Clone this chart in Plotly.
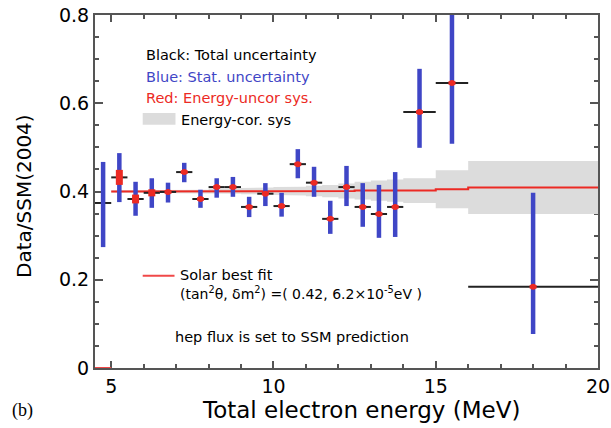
import plotly.graph_objects as go

# ---------------- data ----------------
energy = [4.75, 5.25, 5.75, 6.25, 6.75, 7.25, 7.75, 8.25, 8.75, 9.25, 9.75,
          10.25, 10.75, 11.25, 11.75, 12.25, 12.75, 13.25, 13.75, 14.5, 15.5, 18.0]
bin_half = [0.25] * 19 + [0.5, 0.5, 2.0]
ratio = [0.374, 0.432, 0.383, 0.397, 0.399, 0.444, 0.383, 0.410, 0.410, 0.365, 0.395,
         0.367, 0.462, 0.420, 0.338, 0.410, 0.365, 0.349, 0.365, 0.580, 0.646, 0.184]
stat_up = [0.093, 0.055, 0.039, 0.033, 0.021, 0.021, 0.021, 0.020, 0.023, 0.023, 0.024,
           0.030, 0.034, 0.036, 0.041, 0.048, 0.054, 0.066, 0.079, 0.098, 0.170, 0.213]
stat_dn = [0.100, 0.056, 0.038, 0.034, 0.024, 0.023, 0.020, 0.024, 0.022, 0.023, 0.028,
           0.024, 0.032, 0.032, 0.034, 0.043, 0.045, 0.054, 0.068, 0.081, 0.138, 0.107]
uncor_sys = [0.0, 0.017, 0.010, 0.008, 0.004, 0.004, 0.004, 0.004, 0.004, 0.004, 0.004,
             0.004, 0.004, 0.004, 0.004, 0.004, 0.004, 0.004, 0.004, 0.004, 0.004, 0.004]

fit_edges = [5.0, 5.5, 6.0, 6.5, 7.0, 7.5, 8.0, 8.5, 9.0, 9.5, 10.0, 10.5, 11.0,
             11.5, 12.0, 12.5, 13.0, 13.5, 14.0, 15.0, 16.0, 20.0]
fit_value = [0.400, 0.400, 0.400, 0.400, 0.400, 0.400, 0.401, 0.401, 0.401, 0.401, 0.401,
             0.401, 0.401, 0.401, 0.401, 0.402, 0.402, 0.402, 0.402, 0.405, 0.409]
corr_sys = [0.003, 0.003, 0.003, 0.003, 0.004, 0.004, 0.005, 0.006, 0.007, 0.008, 0.009,
            0.010, 0.012, 0.014, 0.017, 0.020, 0.023, 0.025, 0.028, 0.043, 0.060]

x_ticks = [5, 10, 15, 20]
y_ticks = [0, 0.2, 0.4, 0.6, 0.8]
y_tick_text = ["0", "0.2", "0.4", "0.6", "0.8"]

BLUE = "#3f46c6"
RED = "#ec2a24"
FONT = "DejaVu Sans"

fig = go.Figure()

# energy-correlated systematic band (step shaped)
bx, byu, byl = [], [], []
for i, v in enumerate(fit_value):
    lo, hi = fit_edges[i], fit_edges[i + 1]
    bx += [lo, hi]
    byu += [v + corr_sys[i], v + corr_sys[i]]
    byl += [v - corr_sys[i], v - corr_sys[i]]
fig.add_trace(go.Scatter(x=bx + bx[::-1], y=byu + byl[::-1], fill="toself",
                         fillcolor="#dcdcdc", line=dict(width=0), mode="lines",
                         hoverinfo="skip", showlegend=False))

# best fit step line
sx, sy = [], []
for i, v in enumerate(fit_value):
    sx += [fit_edges[i], fit_edges[i + 1]]
    sy += [v, v]
fig.add_trace(go.Scatter(x=sx, y=sy, mode="lines", line=dict(color=RED, width=2),
                         showlegend=False))
# red segment at zero below threshold
fig.add_trace(go.Scatter(x=[4.5, 5.0], y=[0, 0], mode="lines",
                         line=dict(color="#f04848", width=2), showlegend=False,
                         cliponaxis=False))

# black: bin widths (total uncertainty style horizontal bars)
fig.add_trace(go.Scatter(x=energy, y=ratio, mode="markers",
                         marker=dict(size=1, color="rgba(0,0,0,0)"),
                         error_x=dict(type="data", array=bin_half, symmetric=True,
                                      color="#222222", thickness=2, width=0),
                         showlegend=False))
# blue: statistical uncertainty
fig.add_trace(go.Scatter(x=energy, y=ratio, mode="markers",
                         marker=dict(size=1, color="rgba(0,0,0,0)"),
                         error_y=dict(type="data", array=stat_up, arrayminus=stat_dn,
                                      symmetric=False, color=BLUE, thickness=4.5, width=0),
                         showlegend=False))
# red: energy-uncorrelated systematic
fig.add_trace(go.Scatter(x=energy[1:], y=ratio[1:], mode="markers",
                         marker=dict(size=6, color=RED, symbol="circle"),
                         error_y=dict(type="data", array=uncor_sys[1:], symmetric=True,
                                      color=RED, thickness=7, width=0),
                         showlegend=False))

ann = []
def txt(x, y, s, color="black", size=14.5, xanchor="left", font=FONT, **kw):
    ann.append(dict(x=x, y=y, xref="x", yref="y", text=s, showarrow=False,
                    xanchor=xanchor, yanchor="middle",
                    font=dict(family=font, size=size, color=color), **kw))

txt(6.0, 0.710, "Black: Total uncertainty", "black")
txt(6.0, 0.660, "Blue: Stat. uncertainty", BLUE)
txt(6.0, 0.612, "Red: Energy-uncor sys.", RED)
txt(7.1, 0.563, "Energy-cor. sys", "black")
txt(7.05, 0.211, "Solar best fit", "black")
txt(7.05, 0.170, "(tan<sup>2</sup>θ, δm<sup>2</sup>) =( 0.42, 6.2×10<sup>-5</sup>eV )",
    "black", size=14)
txt(6.9, 0.070, "hep flux is set to SSM prediction", "black", size=14.5)

ann.append(dict(x=(361 - 95) / 503, y=-(410 - 368) / 353, xref="paper", yref="paper",
                text="Total electron energy (MeV)", showarrow=False,
                xanchor="center", yanchor="middle",
                font=dict(family=FONT, size=23, color="black")))
ann.append(dict(x=-(95 - 24) / 503, y=(368 - 196) / 353, xref="paper", yref="paper",
                text="Data/SSM(2004)", showarrow=False, textangle=-90,
                xanchor="center", yanchor="middle",
                font=dict(family=FONT, size=20, color="black")))
ann.append(dict(x=-(95 - 22) / 503, y=-(410 - 368) / 353, xref="paper", yref="paper",
                text="(b)", showarrow=False, xanchor="center", yanchor="middle",
                font=dict(family="Liberation Serif", size=18, color="black")))

shapes = [
    dict(type="rect", xref="x", yref="y", x0=5.97, x1=6.98, y0=0.551, y1=0.578,
         fillcolor="#dcdcdc", line=dict(width=0)),
    dict(type="line", xref="x", yref="y", x0=5.97, x1=6.95, y0=0.209, y1=0.209,
         line=dict(color="#f04848", width=2)),
]

axis_common = dict(showline=True, linecolor="#555555", linewidth=2, mirror="ticks",
                   ticks="inside", tickcolor="#555555", tickwidth=1.5, showgrid=False,
                   zeroline=False, automargin=False, layer="below traces",
                   tickfont=dict(family=FONT, size=19, color="black"))

fig.update_layout(
    width=611, height=428,
    margin=dict(l=95, r=13, t=15, b=60, autoexpand=False),
    paper_bgcolor="white", plot_bgcolor="white",
    showlegend=False,
    annotations=ann, shapes=shapes,
    xaxis=dict(range=[4.5, 20], tickvals=x_ticks, ticklen=7,
               minor=dict(dtick=1, tick0=0, ticks="inside", ticklen=4, tickcolor="#555555"),
               **axis_common),
    yaxis=dict(range=[0, 0.8], tickvals=y_ticks, ticktext=y_tick_text, ticklen=8,
               minor=dict(dtick=0.05, tick0=0, ticks="inside", ticklen=4, tickcolor="#555555"),
               **axis_common),
)

fig.write_html("out.html")
